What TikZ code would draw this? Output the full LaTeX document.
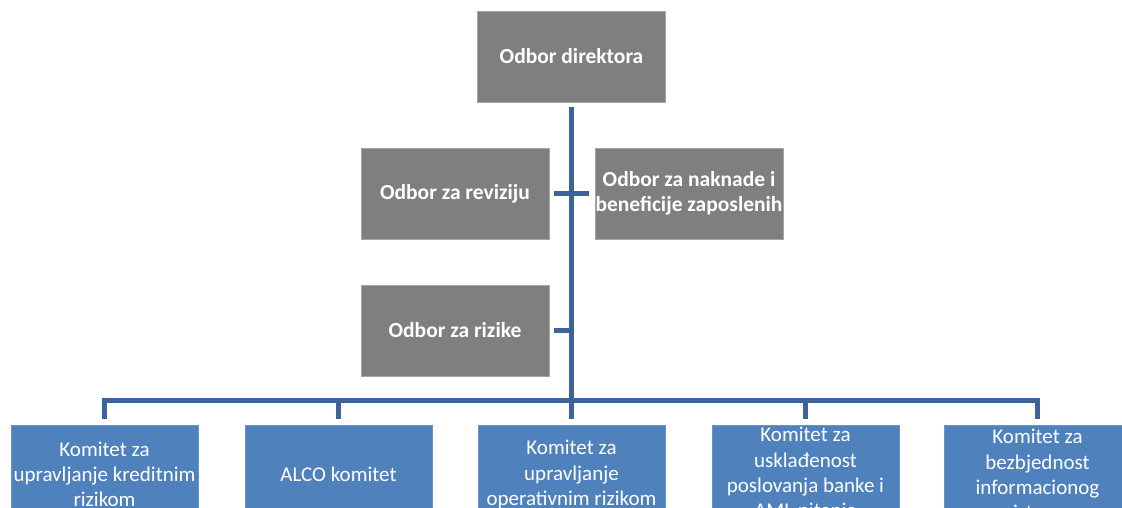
\documentclass[tikz,border=0pt]{standalone}
\usepackage{fontspec}
\setmainfont{Carlito}
\usetikzlibrary{positioning,calc}
\definecolor{sivo}{RGB}{127,127,127}
\definecolor{plavo}{RGB}{79,129,189}
\definecolor{linija}{RGB}{60,100,152}
\tikzset{
  odb/.style={draw=sivo!70!white,fill=sivo,text=white,inner sep=0pt,
    minimum width=188pt,minimum height=91pt,align=center,
    font=\fontsize{21.5}{25.5}\selectfont\bfseries},
  kom/.style={draw=plavo!85!white,fill=plavo,text=white,inner sep=0pt,
    minimum width=187pt,minimum height=99pt,align=center,
    font=\fontsize{21}{25.3}\selectfont},
  lin/.style={draw=linija,line width=5pt},
}
\begin{document}
\begin{tikzpicture}[x=1pt,y=-1pt]
  \useasboundingbox (0,0) rectangle (1122,508);
  \clip (0,0) rectangle (1122,508);
  % odbori
  \node[odb] (dir) at (571.5,56.5) {Odbor direktora};
  \node[odb] (rev) at (455,193.5) {Odbor za reviziju};
  \node[odb] (nak) at (689,193.5) {Odbor za naknade i\\beneficije zaposlenih};
  \node[odb] (riz) at (455,330.5) {Odbor za rizike};
  % komiteti
  \node[kom] (k1) at (104.5,474.5) {Komitet za\\upravljanje kreditnim\\rizikom};
  \node[kom] (k2) at (338.5,474.5) {ALCO komitet};
  \node[kom] (k3) at (571.5,474.5) {Komitet za\\upravljanje\\operativnim rizikom};
  \node[kom] (k4) at (805.5,474.5) {Komitet za\\usklađenost\\poslovanja banke i\\AML pitanja};
  \node[kom] (k5) at (1037.5,474.5) {Komitet za\\bezbjednost\\informacionog\\sistema};
  \coordinate (bus) at (571.5,400);
  % linije
  \draw[lin] ([yshift=-5pt]dir.south) -- (dir.south |- bus);
  \draw[lin] ([xshift=5pt]rev.east) -- ([xshift=-6pt]nak.west);
  \draw[lin] ([xshift=5pt]riz.east) -- (riz.east -| bus);
  \draw[lin] ([yshift=6pt]k1.north) -- (k1.north |- bus) -- (k5.north |- bus)
    -- ([yshift=6pt]k5.north);
  \foreach \k in {k2,k3,k4}
    \draw[lin] ([yshift=6pt]\k.north) -- (\k.north |- bus);
\end{tikzpicture}
\end{document}
